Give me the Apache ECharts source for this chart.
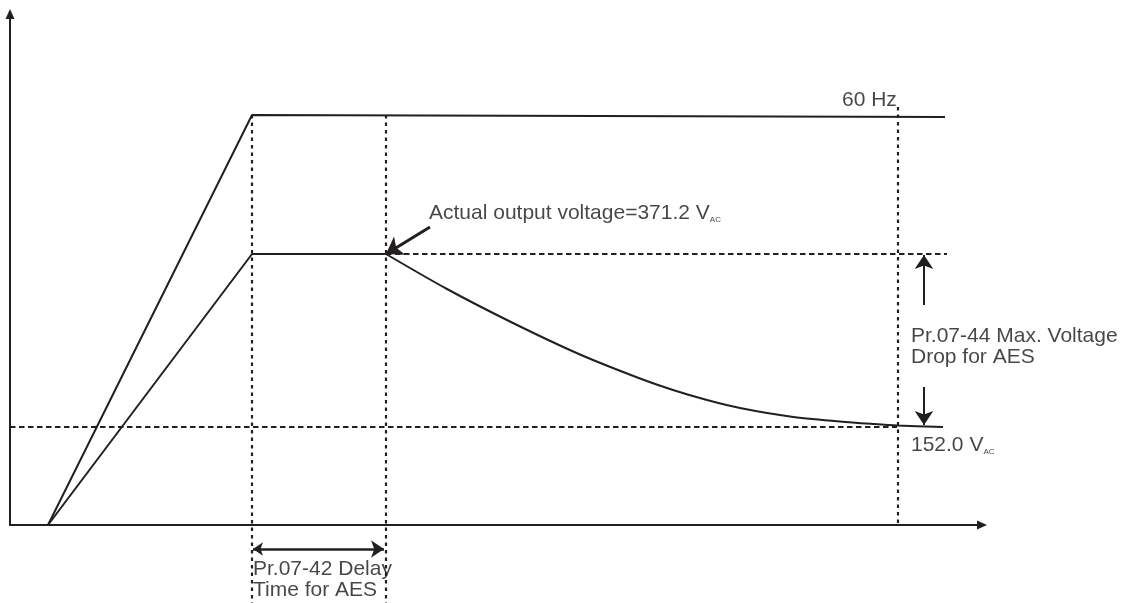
<!DOCTYPE html>
<html><head><meta charset="utf-8">
<script src="https://cdn.jsdelivr.net/npm/echarts@6/dist/echarts.min.js"></script>
<style>html,body{margin:0;padding:0;background:#fff}#c{width:1130px;height:603px}</style>
</head><body><div id="c"></div>
<script>
// Schematic units: x = time, y = output level
const freqX = [38, 242, 935];
const freqY = [0, 410, 408];
// voltage: ramp + hold (straight segments)
const voltRampX = [38, 242, 376];
const voltRampY = [0, 271, 271];
// voltage: decay after the delay time (smooth curve)
const voltDecayX = [376, 437, 503, 570, 630, 663, 697, 730, 780, 830, 863, 887, 933];
const voltDecayY = [271, 236, 202, 170.5, 146.5, 135, 125, 117, 108.5, 103.5, 101, 99.5, 98];

// dotted vertical guides
const vGuideX = [242, 376, 888];
const vGuideTop = [410, 410, 418];
const vGuideBottom = [-78, -78, 0];
// dashed horizontal guides
const hGuideY = [271, 98];
const hGuideStart = [376, 0];
const hGuideEnd = [937, 887];

// text annotations
const labelTexts = [
  '{m|Actual output voltage=371.2 V}{s|AC}',
  '{m|60 Hz}',
  '{m|Pr.07-44 Max. Voltage}\n{m|Drop for AES}',
  '{m|152.0 V}{s|AC}',
  '{m|Pr.07-42 Delay}\n{m|Time for AES}'
];
const labelX = [419, 832, 901, 901, 243];
const labelY = [312, 425, 178, 80, -55];

// single-headed arrows
const arrowFrom = [[420, 298]];
const arrowTo = [[376, 271]];
const vArrowFrom = [[914, 220], [914, 138]];
const vArrowTo = [[914, 270], [914, 100]];
// double-headed arrow
const dArrowFrom = [243, -24];
const dArrowTo = [374, -24];

const INK = '#231f20';
const chart = echarts.init(document.getElementById('c'), null, {renderer: 'canvas'});

const series = [];
series.push({type: 'line', data: freqX.map((x, i) => [x, freqY[i]]), symbol: 'none',
  lineStyle: {color: INK, width: 2}, clip: false, z: 5});
series.push({type: 'line', data: voltRampX.map((x, i) => [x, voltRampY[i]]), symbol: 'none',
  lineStyle: {color: INK, width: 2}, clip: false, z: 5});
series.push({type: 'line', data: voltDecayX.map((x, i) => [x, voltDecayY[i]]), symbol: 'none',
  smooth: 0.3, lineStyle: {color: INK, width: 2}, clip: false, z: 5});
vGuideX.forEach((x, i) => series.push({type: 'line', data: [[x, vGuideTop[i]], [x, vGuideBottom[i]]],
  symbol: 'none', clip: false, lineStyle: {color: INK, width: 2.2, type: [3.5, 4]}, z: 3}));
hGuideY.forEach((y, i) => series.push({type: 'line', data: [[hGuideStart[i], y], [hGuideEnd[i], y]],
  symbol: 'none', clip: false, lineStyle: {color: INK, width: 2.2, type: [5.5, 3.5]}, z: 3}));
series.push({type: 'lines', coordinateSystem: 'cartesian2d', clip: false,
  data: arrowFrom.map((f, i) => ({coords: [f, arrowTo[i]]})),
  symbol: ['none', 'arrow'], symbolSize: [12, 16],
  lineStyle: {color: INK, width: 3, opacity: 1}, z: 6});
series.push({type: 'lines', coordinateSystem: 'cartesian2d', clip: false,
  data: vArrowFrom.map((f, i) => ({coords: [f, vArrowTo[i]]})),
  symbol: ['none', 'arrow'], symbolSize: [10, 14],
  lineStyle: {color: INK, width: 2, opacity: 1}, z: 6});
series.push({type: 'lines', coordinateSystem: 'cartesian2d', clip: false,
  data: [{coords: [dArrowFrom, dArrowTo]}],
  symbol: ['arrow', 'arrow'], symbolSize: [10, 13],
  lineStyle: {color: INK, width: 2.5, opacity: 1}, z: 6});
series.push({type: 'scatter', clip: false, symbolSize: 0, silent: true,
  data: labelX.map((x, i) => ({value: [x, labelY[i]], label: {formatter: labelTexts[i]}})),
  label: {show: true, position: 'right', distance: 0, align: 'left', verticalAlign: 'middle', color: INK,
    rich: {
      m: {fontFamily: 'Liberation Sans', fontSize: 21, color: '#1a1718', lineHeight: 21},
      s: {fontFamily: 'Liberation Sans', fontSize: 8, color: '#1a1718', lineHeight: 8, verticalAlign: 'bottom'}
    }}, z: 7});

chart.setOption({
  animation: false,
  backgroundColor: '#fff',
  grid: {left: 10, right: 148, top: 14, bottom: 78},
  xAxis: {type: 'value', min: 0, max: 972,
    axisLine: {show: true, onZero: false, symbol: ['none', 'triangle'], symbolSize: [9, 10], lineStyle: {color: INK, width: 2}},
    axisTick: {show: false}, axisLabel: {show: false}, splitLine: {show: false}},
  yAxis: {type: 'value', min: 0, max: 511,
    axisLine: {show: true, onZero: false, symbol: ['none', 'triangle'], symbolSize: [9, 10], lineStyle: {color: INK, width: 2}},
    axisTick: {show: false}, axisLabel: {show: false}, splitLine: {show: false}},
  series: series
});
</script></body></html>
